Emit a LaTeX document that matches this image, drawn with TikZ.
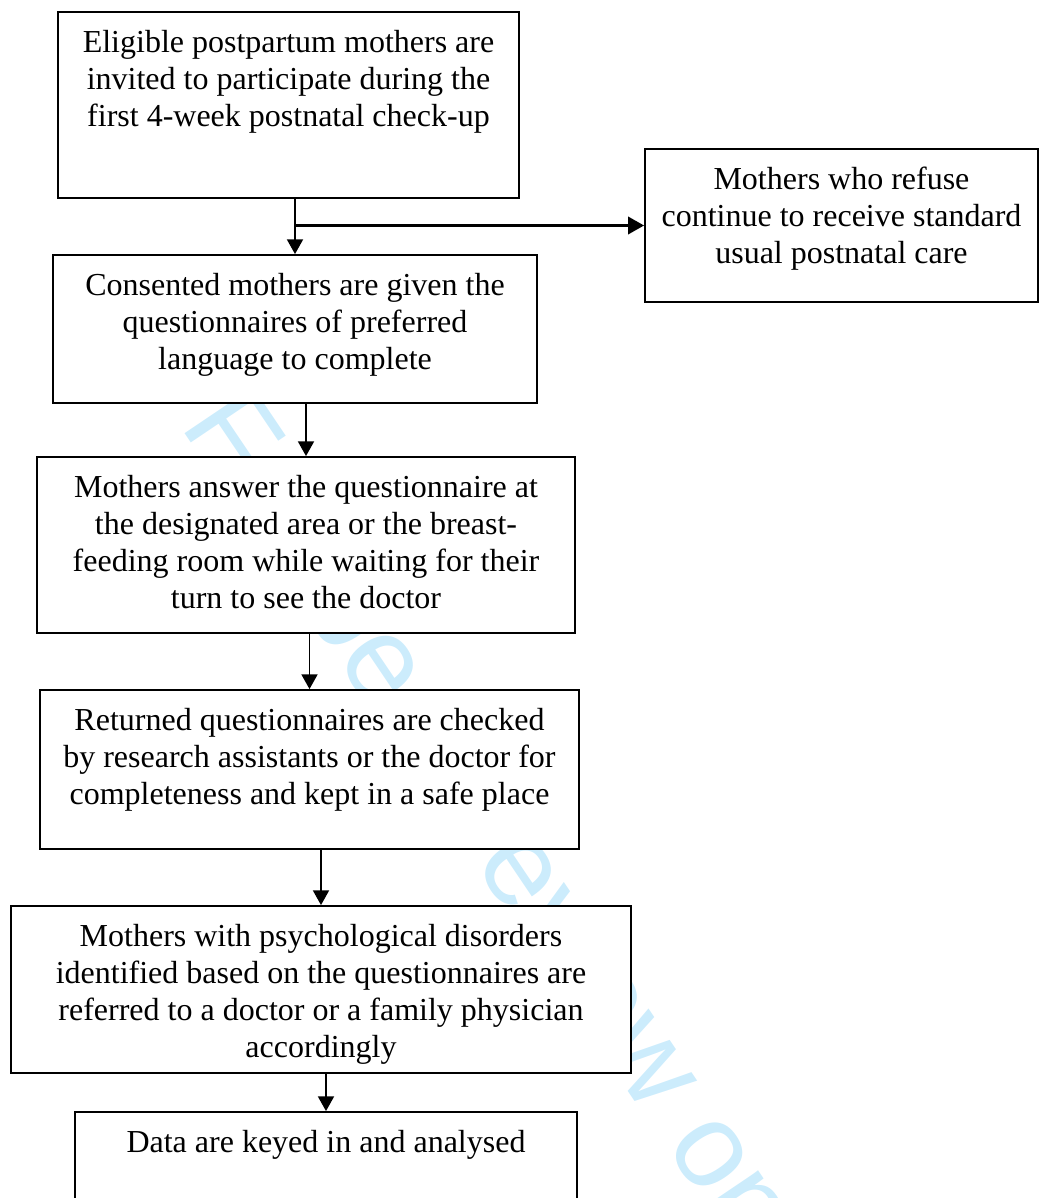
\documentclass[tikz,border=0pt]{standalone}
\usepackage{fontspec}
\setmainfont{Liberation Serif}
\newfontfamily\wmfont{Liberation Sans}
\usetikzlibrary{arrows.meta,positioning,fit}
\definecolor{wmcyan}{RGB}{204,236,252}
\tikzset{
  stepbox/.style={draw,fill=white,line width=0.7pt,inner sep=0pt,fit={#1}},
  boxtext/.style={align=center,inner sep=0pt,font=\fontsize{12}{13.9}\selectfont},
  flow/.style={line width=0.6pt,-{Triangle[length=5.5pt,width=6pt]}},
  branch/.style={line width=1pt,-{Triangle[length=6pt,width=6.5pt]}}
}

\begin{document}
\begin{tikzpicture}[x=0.375pt,y=-0.375pt]
  \useasboundingbox (0,0) rectangle (1040,1198);
  \clip (0,0) rectangle (1040,1198);
  \node[text=wmcyan,rotate=-56,font=\wmfont\fontsize{45}{54}\selectfont] (wm) at (509,859) {For peer review only};
  \node[stepbox={(58,12) (519,198)}] (b1) {};
  \node[stepbox={(645,149) (1038,302)}] (refuse) {};
  \node[stepbox={(53,255) (537,403)}] (b2) {};
  \node[stepbox={(37,457) (575,633)}] (b3) {};
  \node[stepbox={(40,690) (579,849)}] (b4) {};
  \node[stepbox={(11,906) (631,1073)}] (b5) {};
  \node[stepbox={(75,1112) (577,1215)}] (b6) {};
  \node[boxtext,below=7pt of b1.north] (t1) {Eligible postpartum mothers are\\invited to participate during the\\first 4-week postnatal check-up};
  \node[boxtext,below=7pt of refuse.north] (tr) {Mothers who refuse\\continue to receive standard\\usual postnatal care};
  \node[boxtext,below=7pt of b2.north] (t2) {Consented mothers are given the\\questionnaires of preferred\\language to complete};
  \node[boxtext,below=7pt of b3.north] (t3) {Mothers answer the questionnaire at\\the designated area or the breast-\\feeding room while waiting for their\\turn to see the doctor};
  \node[boxtext,below=7pt of b4.north] (t4) {Returned questionnaires are checked\\by research assistants or the doctor for\\completeness and kept in a safe place};
  \node[boxtext,below=7pt of b5.north] (t5) {Mothers with psychological disorders\\identified based on the questionnaires are\\referred to a doctor or a family physician\\accordingly};
  \node[boxtext,below=7pt of b6.north] (t6) {Data are keyed in and analysed};
  \draw[flow] (b1.south -| b2.north) -- (b2.north);
  \draw[branch] (b2.north |- refuse.west) -- (refuse.west);
  \draw[flow] (b2.south -| b3.north) -- (b3.north);
  \draw[flow] (b3.south -| b4.north) -- (b4.north);
  \draw[flow] (b4.south -| b5.north) -- (b5.north);
  \draw[flow] (b5.south -| b6.north) -- (b6.north);
\end{tikzpicture}
\end{document}
